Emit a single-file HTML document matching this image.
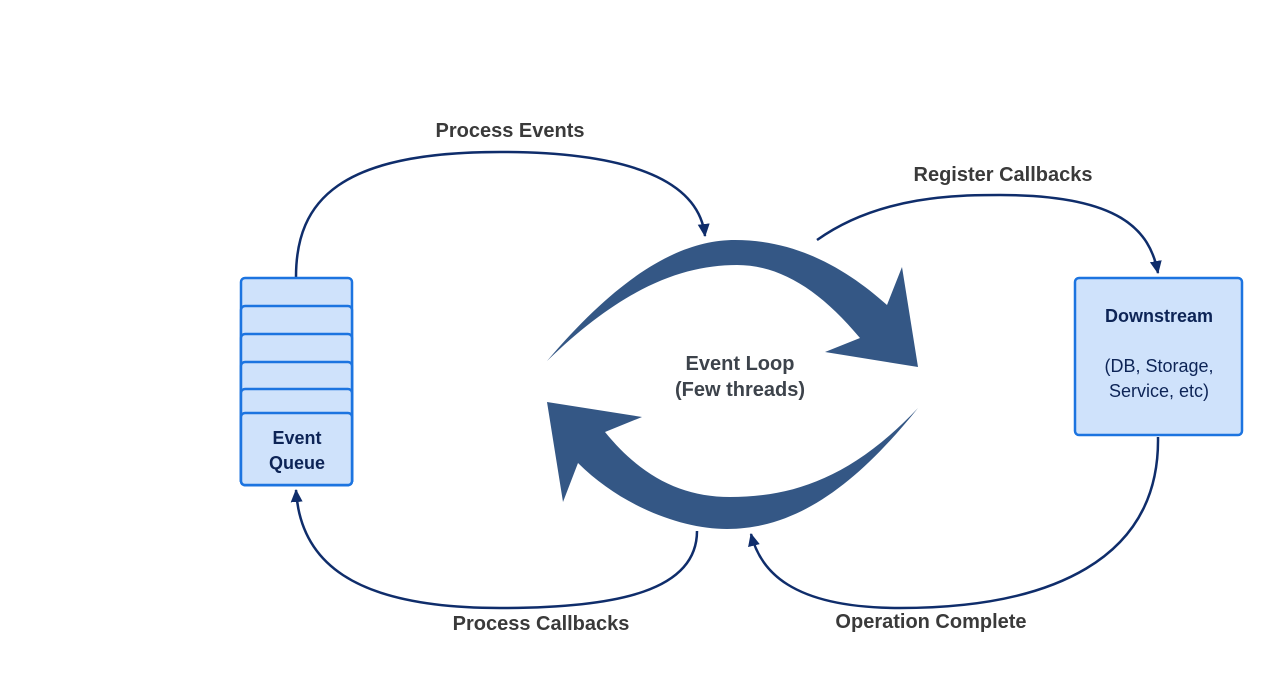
<!DOCTYPE html>
<html><head><meta charset="utf-8"><style>
body{margin:0;background:#fff;}
svg{display:block;}
text{font-family:"Liberation Sans",sans-serif;font-weight:bold;}
</style></head><body>
<svg width="1280" height="679" viewBox="0 0 1280 679" xmlns="http://www.w3.org/2000/svg">
<defs>
<marker id="ah" markerWidth="10" markerHeight="10" refX="8" refY="5" orient="auto" markerUnits="userSpaceOnUse">
<path d="M0,0 L10,5 L0,10 Z" fill="#0f2d6b"/>
</marker>
<marker id="ah2" markerWidth="14" markerHeight="14" refX="12" refY="6" orient="auto" markerUnits="userSpaceOnUse">
<path d="M0,0 L13,6 L0,12 Z" fill="#0f2d6b"/>
</marker>
</defs>
<g fill="none" stroke="#0f2d6b" stroke-width="2.5">
<path d="M296,277 C296,200 340,152 500,152 C650,152 700,190 705,236" marker-end="url(#ah2)"/>
<path d="M817,240 C880,195 960,195 1000,195 C1120,195 1150,230 1158,273" marker-end="url(#ah2)"/>
<path d="M1158,437 C1160,560 1050,608 900,608 C790,608 760,570 751,534" marker-end="url(#ah2)"/>
<path d="M697,531 C697,590 620,608 500,608 C350,608 300,560 296,490" marker-end="url(#ah2)"/>
</g>
<path d="M547,361 C620,275 680,240 735,240 C800,240 850,272 887,305 L902,267 L918,367 L825,352 L860,338 C820,290 780,265 737,265 C680,265 620,290 547,361 Z" fill="#345785"/>
<path d="M918,408 C850,480 790,497 730,497 C680,497 640,475 605,432 L642,417 L547,402 L563,502 L578,463 C620,505 680,529 727,529 C800,529 860,480 918,408 Z" fill="#345785"/>
<g fill="#cfe2fb" stroke="#1c74e0" stroke-width="2.5">
<rect x="241" y="278" width="111" height="207" rx="4"/>
<rect x="241" y="306" width="111" height="179" rx="4"/>
<rect x="241" y="334" width="111" height="151" rx="4"/>
<rect x="241" y="362" width="111" height="123" rx="4"/>
<rect x="241" y="389" width="111" height="96" rx="4"/>
<rect x="241" y="413" width="111" height="72" rx="4"/>
<rect x="1075" y="278" width="167" height="157" rx="4"/>
</g>
<g fill="#0d2456" font-size="18" text-anchor="middle">
<text x="297" y="444">Event</text>
<text x="297" y="469">Queue</text>
<text x="1159" y="322">Downstream</text>
<text x="1159" y="372" font-weight="normal" style="font-weight:normal">(DB, Storage,</text>
<text x="1159" y="397" style="font-weight:normal">Service, etc)</text>
</g>
<g fill="#3a3a3a" font-size="20" text-anchor="middle">
<text x="510" y="137">Process Events</text>
<text x="1003" y="181">Register Callbacks</text>
<text x="541" y="630">Process Callbacks</text>
<text x="931" y="628">Operation Complete</text>
<text x="740" y="370" fill="#3d434b">Event Loop</text>
<text x="740" y="396" fill="#3d434b">(Few threads)</text>
</g>
</svg>
</body></html>
